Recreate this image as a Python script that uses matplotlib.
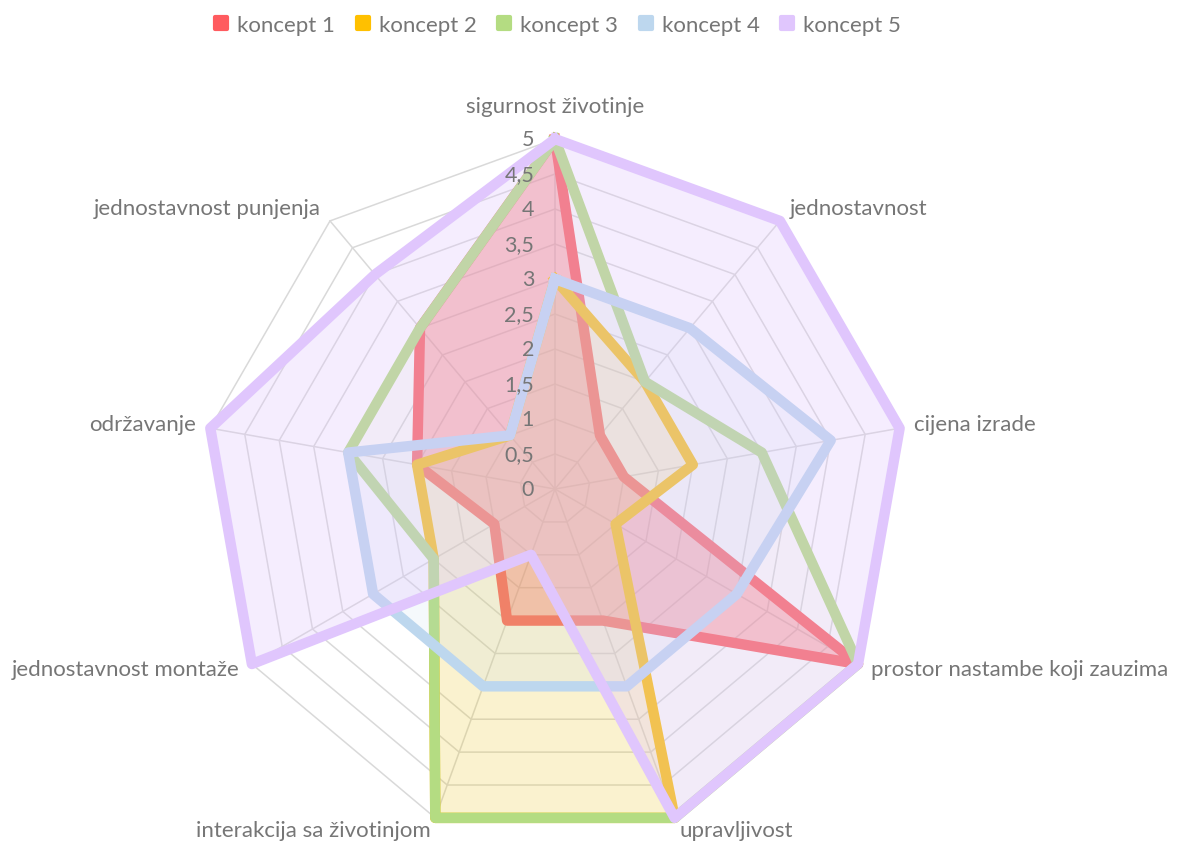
import numpy as np
import matplotlib
matplotlib.use("Agg")
import matplotlib.pyplot as plt
from matplotlib.lines import Line2D
from matplotlib.markers import MarkerStyle
from matplotlib.legend_handler import HandlerTuple

plt.rcParams.update({'font.family': ['Lato', 'DejaVu Sans'], 'font.size': 16})

categories = ["sigurnost životinje", "jednostavnost", "cijena izrade",
              "prostor nastambe koji zauzima", "upravljivost",
              "interakcija sa životinjom", "jednostavnost montaže",
              "održavanje", "jednostavnost punjenja"]
series_names = ["koncept 1", "koncept 2", "koncept 3", "koncept 4", "koncept 5"]
koncept_1 = [5, 1, 1, 5, 2, 2, 1, 2, 3]
koncept_2 = [3, 2, 2, 1, 5, 5, 2, 2, 1]
koncept_3 = [5, 2, 3, 5, 5, 5, 2, 3, 3]
koncept_4 = [3, 3, 4, 3, 3, 3, 3, 3, 1]
koncept_5 = [5, 5, 5, 5, 5, 1, 5, 5, 4]
ticks = [0, 0.5, 1, 1.5, 2, 2.5, 3, 3.5, 4, 4.5, 5]
tick_labels = ["0", "0,5", "1", "1,5", "2", "2,5", "3", "3,5", "4", "4,5", "5"]

series = [koncept_1, koncept_2, koncept_3, koncept_4, koncept_5]
colors = ["#FF5B5F", "#FFC000", "#B4DC82", "#BDD7EE", "#E0C6FD"]
fill_alpha = [0.4, 0.17, 0.06, 0.15, 0.3]
GRID = "#D9D9D9"
TXT = "#767676"

n = len(categories)
theta = np.arange(n) * 2 * np.pi / n
theta_c = np.append(theta, theta[0])
rmax = max(ticks)

fig = plt.figure(figsize=(11.89, 8.45), dpi=100)
fig.patch.set_facecolor('white')
ax = fig.add_axes([0.1724, 0.0059, 0.5887, 0.8284], projection='polar')
ax.set_theta_direction(-1)
ax.set_theta_offset(np.pi / 2)
ax.set_ylim(0, rmax)
ax.grid(False)
ax.spines['polar'].set_visible(False)
ax.set_xticks([]); ax.set_yticks([])
ax.patch.set_alpha(0)

# nonagon rings + spokes
for t in ticks[1:]:
    ax.plot(theta_c, [t] * (n + 1), color=GRID, lw=1.1, zorder=1, clip_on=False)
for th in theta:
    ax.plot([th, th], [0, rmax], color=GRID, lw=1.1, zorder=1, clip_on=False)

# filled series, each with its outline
for i, (vals, c, a) in enumerate(zip(series, colors, fill_alpha)):
    v = np.append(vals, vals[0])
    ax.fill(theta_c, v, color=c, alpha=a, lw=0, zorder=2 + 2 * i)
    ax.plot(theta_c, v, color=c, lw=7.5, solid_joinstyle='round',
            zorder=3 + 2 * i, clip_on=False)

# value labels along the top spoke
for t, lbl in zip(ticks, tick_labels):
    ax.annotate(lbl, xy=(0, t), xytext=(-15, 0), textcoords='offset points',
                ha='right', va='center', color=TXT, fontsize=15.5, zorder=20)

# category labels outside the outer ring
for th, name in zip(theta, categories):
    s, c = np.sin(th), np.cos(th)
    if abs(s) < 1e-6:
        off = (0, 24); ha = 'center'
    else:
        off = (10.5 * s, 10.5 * c + 1.5); ha = 'left' if s > 0 else 'right'
    ax.annotate(name, xy=(th, rmax), xytext=off, textcoords='offset points',
                ha=ha, va='center', color=TXT, fontsize=16, zorder=20,
                annotation_clip=False)

# legend with rounded square markers and a white dot
handles = []
for c in colors:
    big = Line2D([], [], ls='none', marker=MarkerStyle('s', joinstyle='round'),
                 markersize=9, markerfacecolor=c, markeredgecolor=c, markeredgewidth=3)
    dot = Line2D([], [], ls='none', marker='s', markersize=2.4,
                 markerfacecolor='white', markeredgecolor='white', markeredgewidth=0)
    handles.append((big, dot))
leg = fig.legend(handles, series_names, loc='upper center', bbox_to_anchor=(0.471, 1.005),
                 ncol=5, frameon=False, fontsize=16, handlelength=0.8, handletextpad=0.02,
                 columnspacing=1.15, handler_map={tuple: HandlerTuple(ndivide=None)})
for t in leg.get_texts():
    t.set_color(TXT)

fig.savefig("out.png", dpi=100, facecolor='white')
